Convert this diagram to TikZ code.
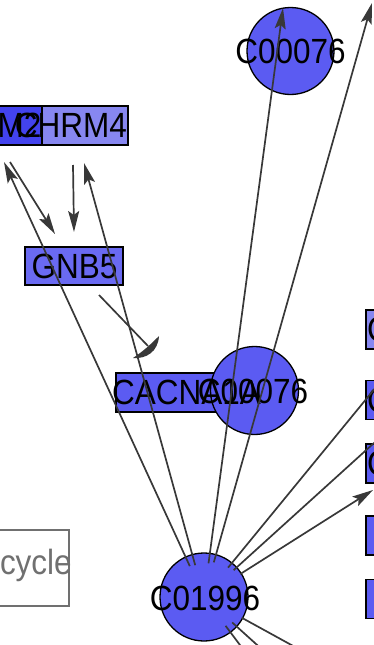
\documentclass[tikz,border=0pt]{standalone}
\usepackage{fontspec}
\setmainfont[FakeStretch=0.9]{Liberation Sans}
\usetikzlibrary{arrows.meta}
\definecolor{cBlue}{HTML}{5B5BF2}
\definecolor{cDark}{HTML}{4343EE}
\definecolor{cLight}{HTML}{8787F0}
\definecolor{cGnb}{HTML}{6A6AF2}
\definecolor{cEdge}{HTML}{383838}
\definecolor{cGray}{HTML}{707070}
\tikzset{
  genebox/.style={draw=black, line width=1.3pt, rectangle, inner sep=0pt, outer sep=0pt, minimum height=39pt},
  cpd/.style={draw=black, line width=1.3pt, circle, fill=cBlue, inner sep=0pt, outer sep=0pt, minimum size=88pt},
  lbl/.style={font=\fontsize{35}{35}\selectfont, inner sep=0pt, outer sep=0pt, text=black},
  edge/.style={draw=cEdge, line width=1.7pt},
  arr/.style={edge, -{Stealth[length=21pt,width=11pt,inset=4pt]}},
}
\begin{document}
\begin{tikzpicture}[x=1pt,y=-1pt]
\useasboundingbox (0,0) rectangle (373,645);
% gene boxes
\node[genebox, fill=cLight, minimum width=98pt] (chrm4) at (79,125.5) {};
\node[genebox, fill=cDark, minimum width=98pt] (chrm2) at (-7,125.5) {};
\node[genebox, fill=cGnb, minimum width=98pt, minimum height=38pt] (gnb5) at (74,266) {};
\node[genebox, fill=cBlue, minimum width=124pt] (cacna) at (178,392.5) {};
\node[genebox, fill=cLight, minimum width=100pt] (r1) at (416,329.5) {};
\node[genebox, fill=cBlue, minimum width=100pt] (r2) at (416,400) {};
\node[genebox, fill=cBlue, minimum width=100pt] (r3) at (416,463.5) {};
\node[genebox, fill=cBlue, minimum width=100pt] (r4) at (416,535.5) {};
\node[genebox, fill=cBlue, minimum width=100pt] (r5) at (416,599) {};
\node[draw=cGray, line width=1.3pt, fill=white, rectangle, inner sep=0pt, outer sep=0pt,
      minimum width=110pt, minimum height=76pt] (cyclebox) at (14,568) {};
% compounds
\node[cpd, minimum size=87pt] (ctop) at (290.5,51) {};
\node[cpd] (cmid) at (254.5,390.5) {};
\node[cpd] (c1996) at (204,597) {};
% labels
\node[lbl, anchor=east] (tchrm2) at (41.5,125.5) {CHRM2};
\node[lbl] (tchrm4) at (71,125.5) {CHRM4};
\node[lbl] (tgnb5) at (74.5,266) {GNB5};
\node[lbl] (tcacna) at (186.5,392) {CACNA1A};
\node[lbl] (tctop) at (290.5,51) {C00076};
\node[lbl] (tcmid) at (253,391) {C00076};
\node[lbl] (tc1996) at (205,598) {C01996};
\node[lbl, anchor=west] (tr1) at (367,329.5) {C};
\node[lbl, anchor=west] (tr2) at (367,400) {C};
\node[lbl, anchor=west] (tr3) at (367,463.5) {C};
\node[lbl, anchor=base west, text=cGray] (tcycle) at (0,574) {cycle};
% connector end points
\coordinate (tipA) at (4,162);
\coordinate (tipB) at (84,163);
\coordinate (tipC) at (283,8);
\coordinate (tipD) at (372,3);
\coordinate (offR1) at (390,370);
\coordinate (offR2) at (390,428.5);
\coordinate (tipR3) at (373,490);
\coordinate (offB1) at (246,653);
\coordinate (offB2) at (266,653);
\coordinate (offB3) at (306,653);
\coordinate (gS) at (10,162);
\coordinate (gE) at (55,234);
\coordinate (hS) at (73,165);
\coordinate (hE) at (74,232);
\coordinate (iS) at (99,295);
\coordinate (iE) at (148,346);
% connectors from C01996
\draw[arr, shorten <=34pt] (c1996.center) -- (tipA);
\draw[arr, shorten <=33pt] (c1996.center) -- (tipB);
\draw[arr, shorten <=34pt] (c1996.center) -- (tipC);
\draw[arr, shorten <=36pt] (c1996.center) -- (tipD);
\draw[edge, shorten <=38pt] (c1996.center) -- (offR1);
\draw[edge, shorten <=40pt] (c1996.center) -- (offR2);
\draw[arr, shorten <=43pt] (c1996.center) -- (tipR3);
\draw[edge, shorten <=36pt] (c1996.center) -- (offB1);
\draw[edge, shorten <=38pt] (c1996.center) -- (offB2);
\draw[edge, shorten <=43pt] (c1996.center) -- (offB3);
% connectors among genes
\draw[arr] (gS) -- (gE);
\draw[arr] (hS) -- (hE);
\draw[edge] (iS) -- (iE);
\fill[cEdge] (133,358) .. controls (145,350) and (152,343) .. (159,336)
  .. controls (158,352) and (146,359) .. cycle;
\end{tikzpicture}
\end{document}
